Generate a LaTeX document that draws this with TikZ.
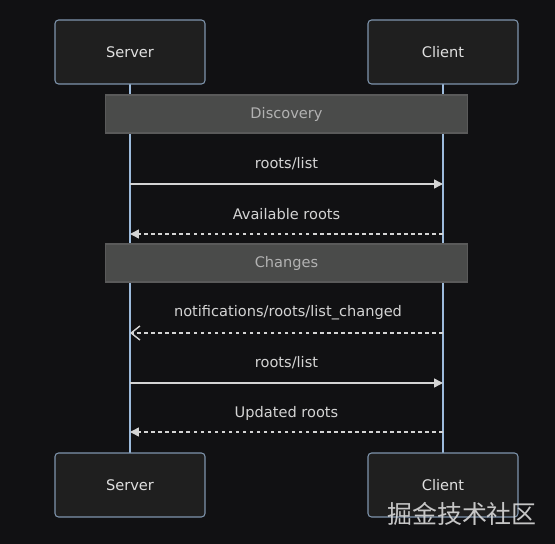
\documentclass[tikz,border=0pt]{standalone}
\usepackage{fontspec}
\setmainfont{DejaVu Sans}
\newfontfamily\cjk{Noto Sans CJK SC}
\usetikzlibrary{arrows.meta}

\definecolor{bgcol}{HTML}{111113}
\definecolor{boxfill}{HTML}{1F1F1F}
\definecolor{boxline}{HTML}{7F95AD}
\definecolor{lifecol}{HTML}{9DBBDC}
\definecolor{notefill}{HTML}{4A4B4A}
\definecolor{noteline}{HTML}{5A5A5A}
\definecolor{msgcol}{HTML}{D4D4D4}

\tikzset{
  actor/.style={draw=boxline, fill=boxfill, rounded corners=2pt, line width=0.6pt,
    minimum width=3cm, minimum height=1.28cm, text=white!88!black, font=\fontsize{8.3}{10}\selectfont},
  notebox/.style={draw=noteline, fill=notefill, line width=0.6pt, minimum width=7.26cm,
    minimum height=0.76cm, text=white!70!black, font=\fontsize{8.3}{10}\selectfont},
  msgtext/.style={text=msgcol, font=\fontsize{8.3}{10}\selectfont},
  msg/.style={draw=msgcol, line width=0.8pt, -{Triangle[length=5pt,width=5pt]}},
  reply/.style={draw=msgcol, line width=0.8pt, dash pattern=on 2pt off 2pt, -{Triangle[length=5pt,width=5pt]}},
  note/.style={draw=msgcol, line width=0.8pt, dash pattern=on 2pt off 2pt, -{Straight Barb[length=5pt,width=8pt]}},
}

\begin{document}
\begin{tikzpicture}[x=0.02cm, y=-0.02cm]
  \fill[bgcol] (0,0) rectangle (555,544);
  \useasboundingbox (0,0) rectangle (555,544);

  % lifelines
  \draw[lifecol, line width=0.8pt] (130,84) -- (130,453);
  \draw[lifecol, line width=0.8pt] (443,84) -- (443,453);

  % actors
  \node[actor] (srvtop) at (130,52) {\raisebox{-1pt}{Server}};
  \node[actor] (clitop) at (443,52) {\raisebox{-1pt}{Client}};
  \node[actor] (srvbot) at (130,485) {\raisebox{-1pt}{Server}};
  \node[actor] (clibot) at (443,485) {\raisebox{-1pt}{Client}};

  % notes
  \node[notebox] (discovery) at (286.5,114) {\raisebox{-1pt}{Discovery}};
  \node[notebox] (changes) at (286.5,263) {\raisebox{-1pt}{Changes}};

  % points on the lifelines
  \coordinate (s1) at (130,184); \coordinate (c1) at (443,184);
  \coordinate (s2) at (130,234); \coordinate (c2) at (443,234);
  \coordinate (s3) at (130,333); \coordinate (c3) at (443,333);
  \coordinate (s4) at (130,383); \coordinate (c4) at (443,383);
  \coordinate (s5) at (130,432); \coordinate (c5) at (443,432);

  % messages
  \node[msgtext] (m1) at (286.5,164) {roots/list};
  \draw[msg] (s1) -- (c1);
  \node[msgtext] (m2) at (286.5,214) {Available roots};
  \draw[reply] (c2) -- (s2);
  \node[msgtext] (m3) at (288,313) {notifications/roots/list\_changed};
  \draw[note] (c3) -- (s3);
  \node[msgtext] (m4) at (286.5,363) {roots/list};
  \draw[msg] (s4) -- (c4);
  \node[msgtext] (m5) at (286.5,413) {Updated roots};
  \draw[reply] (c5) -- (s5);

  % watermark
  \node[text=white!85!black, opacity=0.9, font=\cjk\fontsize{14.2}{16}\selectfont] (mark) at (462,514) {掘金技术社区};
\end{tikzpicture}
\end{document}
